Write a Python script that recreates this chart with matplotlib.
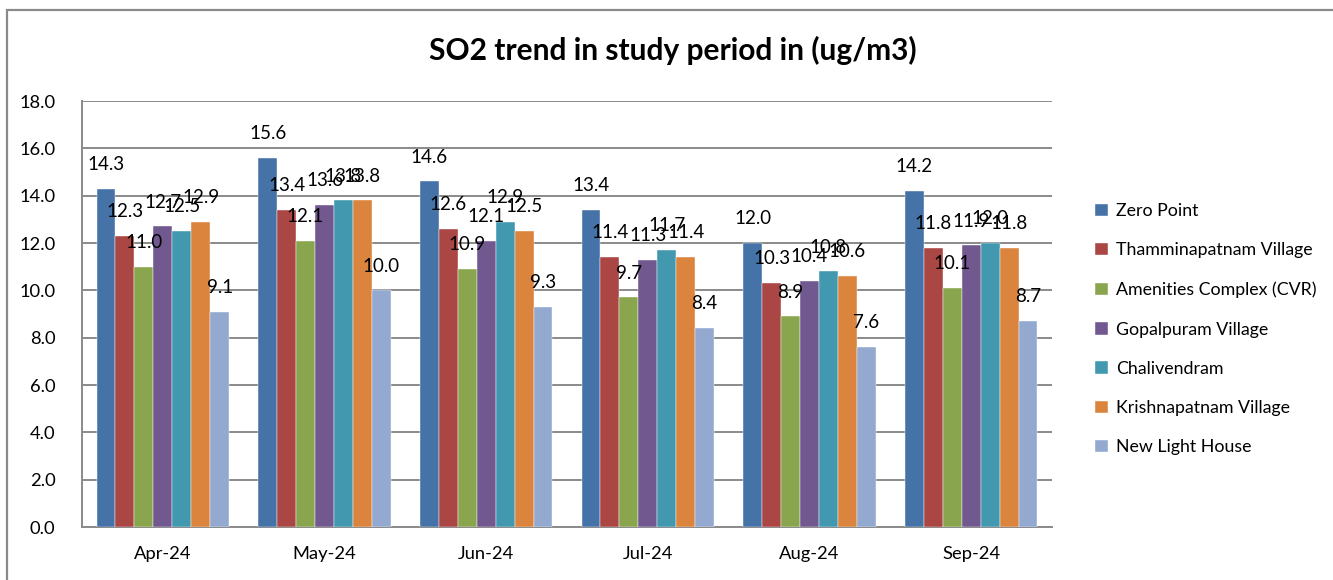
import numpy as np
import matplotlib
matplotlib.use("Agg")
import matplotlib.pyplot as plt
from matplotlib.patches import Rectangle

plt.rcParams['font.family'] = ['Lato', 'DejaVu Sans']

months = ['Apr-24', 'May-24', 'Jun-24', 'Jul-24', 'Aug-24', 'Sep-24']
stations = ['Zero Point', 'Thamminapatnam Village', 'Amenities Complex (CVR)',
            'Gopalpuram Village', 'Chalivendram', 'Krishnapatnam Village',
            'New Light House']

zero_point = [14.3, 15.6, 14.6, 13.4, 12.0, 14.2]
thamminapatnam = [12.3, 13.4, 12.6, 11.4, 10.3, 11.8]
amenities = [11.0, 12.1, 10.9, 9.7, 8.9, 10.1]
gopalpuram = [12.7, 13.6, 12.1, 11.3, 10.4, 11.9]
chalivendram = [12.5, 13.8, 12.9, 11.7, 10.8, 12.0]
krishnapatnam = [12.9, 13.8, 12.5, 11.4, 10.6, 11.8]
new_light_house = [9.1, 10.0, 9.3, 8.4, 7.6, 8.7]

series = [zero_point, thamminapatnam, amenities, gopalpuram,
          chalivendram, krishnapatnam, new_light_house]
colors = ['#4572A7', '#AA4643', '#89A54E', '#71588F', '#4198AF', '#DB843D', '#93A9CF']

fig = plt.figure(figsize=(13.33, 5.8), dpi=100)
ax = fig.add_axes([82 / 1333, 1 - 527 / 580, (1052 - 82) / 1333, (527 - 101) / 580])

# outer chart border (only left and top show in the crop)
fig.patches.append(Rectangle((7 / 1333, -0.1), 1.2, 1.1 - 10 / 580, transform=fig.transFigure,
                             fill=False, edgecolor='#8a8a8a', linewidth=1.6, zorder=0))

x = np.arange(len(months))
n = len(series)
w = 0.82 / n
for i, (vals, c, name) in enumerate(zip(series, colors, stations)):
    pos = x - 0.41 + w * (i + 0.5)
    bars = ax.bar(pos, vals, width=w, color=c, label=name, zorder=3,
                  edgecolor='white', linewidth=0.3)
    for b, v in zip(bars, vals):
        ax.annotate(f'{v:.1f}', (b.get_x() + b.get_width() / 2, v), xytext=(0, 17.5),
                    textcoords='offset points', ha='center', va='center',
                    fontsize=13.5, color='black', zorder=5)

ax.set_xlim(-0.5, len(months) - 0.5)
ax.set_ylim(0, 18)
ax.set_yticks(np.arange(0, 18.1, 2))
ax.set_yticklabels([f'{t:.1f}' for t in np.arange(0, 18.1, 2)])
ax.set_xticks(x)
ax.set_xticklabels(months)
ax.tick_params(axis='both', length=0, labelsize=13.2)
ax.tick_params(axis='y', pad=19)
ax.tick_params(axis='x', pad=14)
ax.yaxis.grid(True, color='#8a8a8a', linewidth=1.4, zorder=0)
ax.set_axisbelow(True)
for s in ['top', 'right']:
    ax.spines[s].set_visible(False)
ax.spines['left'].set_color('#8a8a8a')
ax.spines['left'].set_linewidth(1.4)
ax.spines['bottom'].set_color('#8a8a8a')
ax.spines['bottom'].set_linewidth(1.4)

fig.text(0.505, 1 - 50 / 580, 'SO2 trend in study period in (ug/m3)', ha='center', va='center',
         fontsize=21.5, fontweight='bold')

fig.legend(loc='upper left', bbox_to_anchor=(1088 / 1333, 1 - 196 / 580), frameon=False,
           fontsize=12.8, handlelength=0.7, handleheight=0.7, handletextpad=0.5,
           labelspacing=1.31, borderaxespad=0)

fig.savefig('out.png', dpi=100)
